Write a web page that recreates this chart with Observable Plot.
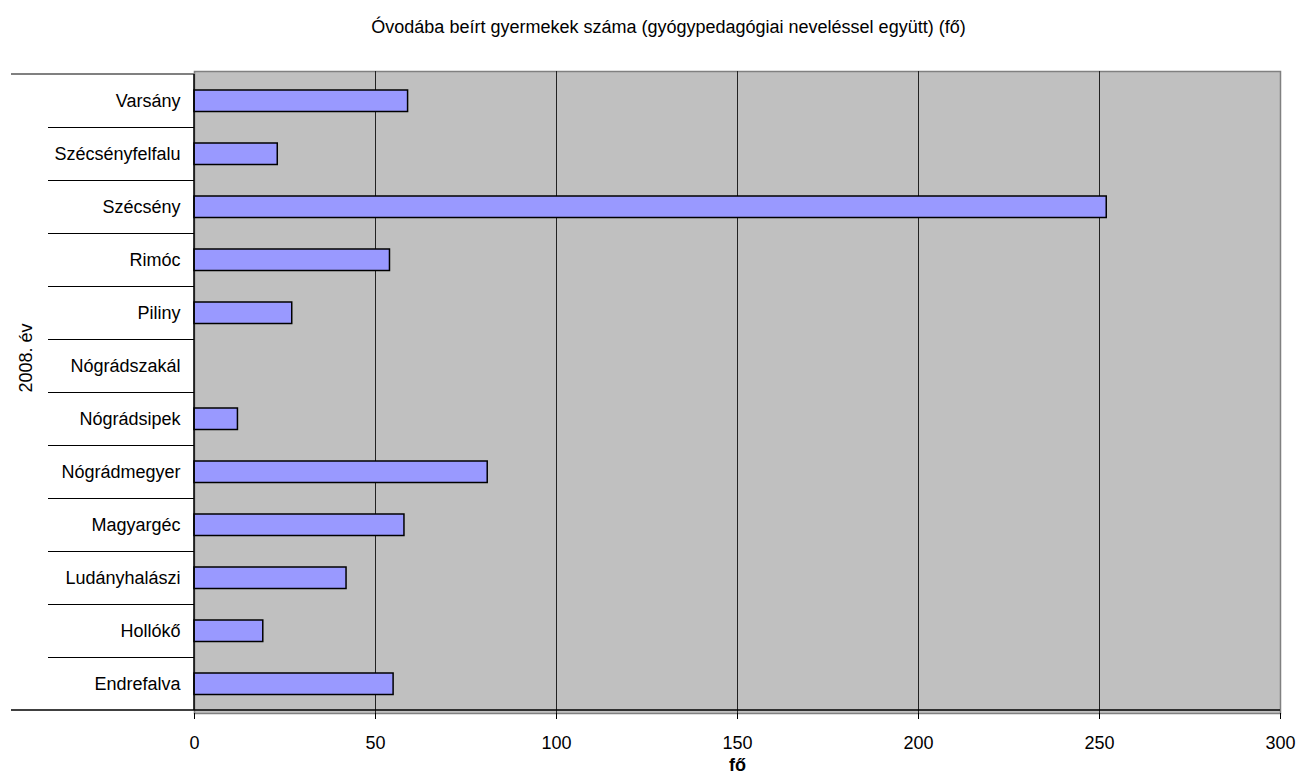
<!DOCTYPE html>
<html>
<head>
<meta charset="utf-8">
<script src="https://cdn.jsdelivr.net/npm/d3@7"></script>
<script src="https://cdn.jsdelivr.net/npm/@observablehq/plot@0.6"></script>
<style>
  body { margin: 0; background: #fff; font-family: Arial, "Liberation Sans", sans-serif; }
  #wrap { position: relative; width: 1311px; height: 781px; }
  #title { position: absolute; top: 18px; left: 13px; width: 1311px; text-align: center; font-size: 18px; line-height: 18px; color: #000; white-space: nowrap; }
  svg { display: block; }
</style>
</head>
<body>
<div id="wrap">
  <div id="chart"></div>
  <div id="title">Óvodába beírt gyermekek száma (gyógypedagógiai neveléssel együtt) (fő)</div>
</div>
<script>
const categories = ["Varsány", "Szécsényfelfalu", "Szécsény", "Rimóc", "Piliny", "Nógrádszakál", "Nógrádsipek", "Nógrádmegyer", "Magyargéc", "Ludányhalászi", "Hollókő", "Endrefalva"];
const values = [59, 23, 252, 54, 27, 0, 12, 81, 58, 42, 19, 55];
const xTicks = [0, 50, 100, 150, 200, 250, 300];
const gridTicks = [50, 100, 150, 200, 250];
const groupLabel = "2008. év";
const xLabel = "fő";

const data = categories.map((c, i) => ({name: c, value: values[i]}));

function separators(index, scales, vals, dim) {
  const g = d3.create("svg:g");
  const y = scales.y;
  const step = y.bandwidth ? y.bandwidth() : (y(categories[1]) - y(categories[0]));
  const x0 = scales.x(0);
  const xEnd = scales.x(300);
  const top = y(categories[0]);
  const bottom = y(categories[categories.length - 1]) + step;
  g.append("line").attr("x1", 11).attr("x2", x0).attr("y1", top).attr("y2", top)
    .attr("stroke", "#808080").attr("stroke-width", 2);
  for (let i = 1; i < categories.length; i++) {
    const yy = Math.round(y(categories[i])) + 0.5;
    g.append("line").attr("x1", 48).attr("x2", x0).attr("y1", yy).attr("y2", yy)
      .attr("stroke", "#000").attr("stroke-width", 1);
  }
  g.append("line").attr("x1", x0).attr("x2", x0).attr("y1", top).attr("y2", bottom)
    .attr("stroke", "#000").attr("stroke-width", 1.5);
  g.append("line").attr("x1", 11).attr("x2", xEnd).attr("y1", bottom).attr("y2", bottom)
    .attr("stroke", "#000").attr("stroke-width", 1.5);
  return g.node();
}

const plot = Plot.plot({
  width: 1311,
  height: 781,
  marginTop: 71,
  marginBottom: 68,
  marginLeft: 194,
  marginRight: 31,
  style: {fontFamily: "Arial, 'Liberation Sans', sans-serif", fontSize: "18px", color: "#000", background: "transparent"},
  x: {domain: [0, 300], label: null},
  y: {domain: categories, padding: 0, label: null},
  marks: [
    Plot.frame({fill: "#c0c0c0", stroke: "#808080", strokeWidth: 1.5}),
    Plot.ruleX(gridTicks, {stroke: "#222", strokeWidth: 1}),
    Plot.barX(data, {y: "name", x: "value", fill: "#9999ff", stroke: "#000", strokeWidth: 1.5, insetTop: 16, insetBottom: 15.5}),
    Plot.axisX(xTicks, {tickSize: 6, tickPadding: 17, fontSize: 18, stroke: "#000", label: null}),
    Plot.axisY({tickSize: 0, tickPadding: 14, fontSize: 18, label: null}),
    separators,
    Plot.text([groupLabel], {frameAnchor: "left", dx: -168, rotate: -90, fontSize: 18, fill: "#000"}),
    Plot.text([xLabel], {frameAnchor: "bottom", dy: 57, fontSize: 18, fontWeight: "bold", fill: "#000"})
  ]
});
document.getElementById("chart").appendChild(plot);
</script>
</body>
</html>
